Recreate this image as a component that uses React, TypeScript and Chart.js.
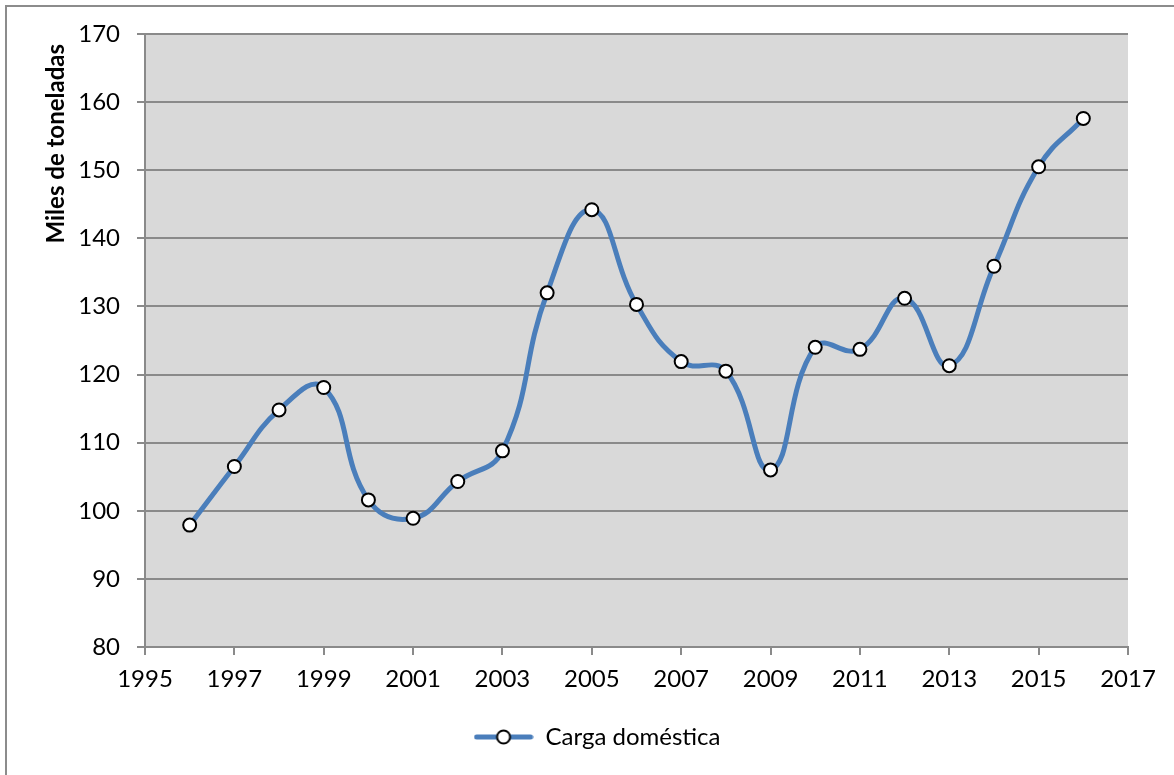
import React, { useEffect, useRef } from "react";
import { Chart, registerables } from "chart.js";

Chart.register(...registerables);

const years: number[] = [1996, 1997, 1998, 1999, 2000, 2001, 2002, 2003, 2004, 2005, 2006, 2007, 2008, 2009, 2010, 2011, 2012, 2013, 2014, 2015, 2016];
const cargaDomestica: number[] = [97.9, 106.5, 114.8, 118.1, 101.6, 98.9, 104.3, 108.8, 132.0, 144.2, 130.3, 121.9, 120.5, 106.0, 124.0, 123.7, 131.2, 121.3, 135.9, 150.5, 157.6];
const seriesLabel = "Carga doméstica";
const yTitle = "Miles de toneladas";
const xMin = 1995;
const xMax = 2017;
const xStep = 2;
const yMin = 80;
const yMax = 170;
const yStep = 10;

const LINE = "#4a7ebb";
const GRID = "#8a8a8a";
const PLOT_BG = "#d9d9d9";
const FONT = "Lato, 'Open Sans', sans-serif";

function makeLegendMarker(): HTMLCanvasElement {
  const c = document.createElement("canvas");
  c.width = 60;
  c.height = 18;
  const ctx = c.getContext("2d")!;
  ctx.strokeStyle = LINE;
  ctx.lineWidth = 5;
  ctx.lineCap = "round";
  ctx.beginPath();
  ctx.moveTo(3, 9);
  ctx.lineTo(57, 9);
  ctx.stroke();
  ctx.beginPath();
  ctx.arc(30, 9, 6.5, 0, Math.PI * 2);
  ctx.fillStyle = "#ffffff";
  ctx.fill();
  ctx.lineWidth = 2;
  ctx.strokeStyle = "#000000";
  ctx.stroke();
  return c;
}

const plotBgPlugin = {
  id: "plotBg",
  beforeDraw(chart: any) {
    const { ctx, chartArea } = chart;
    ctx.save();
    ctx.fillStyle = PLOT_BG;
    ctx.fillRect(chartArea.left, chartArea.top, chartArea.right - chartArea.left, chartArea.bottom - chartArea.top);
    ctx.restore();
  },
};

const yTitlePlugin = {
  id: "yTitleTop",
  afterDraw(chart: any) {
    const { ctx, chartArea } = chart;
    ctx.save();
    ctx.translate(56, chartArea.top + 10);
    ctx.rotate(-Math.PI / 2);
    ctx.font = `bold 24px ${FONT}`;
    ctx.fillStyle = "#000000";
    ctx.textAlign = "right";
    ctx.textBaseline = "middle";
    ctx.fillText(yTitle, 0, 0);
    ctx.restore();
  },
};

export default function App() {
  const ref = useRef<HTMLCanvasElement | null>(null);

  useEffect(() => {
    if (!ref.current) return;
    const marker = makeLegendMarker();
    const chart = new Chart(ref.current, {
      type: "line",
      data: {
        datasets: [
          {
            label: seriesLabel,
            data: years.map((y, i) => ({ x: y, y: cargaDomestica[i] })),
            borderColor: LINE,
            backgroundColor: "#ffffff",
            borderWidth: 5,
            tension: 0.45,
            pointRadius: 6.5,
            pointBorderWidth: 2,
            pointBorderColor: "#000000",
            pointBackgroundColor: "#ffffff",
            pointStyle: "circle",
            fill: false,
          },
        ],
      },
      options: {
        animation: false,
        responsive: false,
        maintainAspectRatio: false,
        layout: { padding: { left: 66, top: 34, right: 46, bottom: 16 } },
        plugins: {
          tooltip: { enabled: false },
          legend: {
            display: true,
            position: "bottom",
            labels: {
              usePointStyle: true,
              pointStyleWidth: 60,
              color: "#000000",
              font: { family: FONT, size: 24 },
              padding: 10,
              generateLabels: () => [
                {
                  text: seriesLabel,
                  pointStyle: marker as any,
                  fillStyle: "#ffffff",
                  strokeStyle: LINE,
                  lineWidth: 0,
                  hidden: false,
                  datasetIndex: 0,
                  fontColor: "#000000",
                },
              ],
            },
          },
        },
        scales: {
          x: {
            type: "linear",
            min: xMin,
            max: xMax,
            afterFit: (s: any) => {
              s.height = 68;
            },
            ticks: {
              stepSize: xStep,
              color: "#000000",
              font: { family: FONT, size: 24 },
              padding: 10,
              maxRotation: 0,
              callback: (v: any) => String(v),
            },
            grid: {
              display: true,
              drawOnChartArea: false,
              drawTicks: true,
              tickLength: 8,
              color: GRID,
              lineWidth: 2,
            },
            border: { display: true, color: GRID, width: 2 },
          },
          y: {
            type: "linear",
            min: yMin,
            max: yMax,
            afterFit: (s: any) => {
              s.width = 79;
            },
            ticks: {
              stepSize: yStep,
              color: "#000000",
              font: { family: FONT, size: 24 },
              padding: 17,
            },
            grid: {
              display: true,
              drawOnChartArea: true,
              drawTicks: true,
              tickLength: 8,
              color: GRID,
              lineWidth: 2,
            },
            border: { display: true, color: GRID, width: 2 },
            title: { display: false },
          },
        },
      },
      plugins: [plotBgPlugin, yTitlePlugin],
    });
    return () => chart.destroy();
  }, []);

  return (
    <div style={{ position: "fixed", left: 0, top: 0, width: 1174, height: 775, background: "#ffffff", overflow: "hidden" }}>
      <div
        style={{
          position: "absolute",
          left: 5,
          top: 5,
          width: 1200,
          height: 800,
          borderLeft: "2px solid #8c8c8c",
          borderTop: "2px solid #8c8c8c",
        }}
      />
      <canvas ref={ref} width={1174} height={775} style={{ position: "absolute", left: 0, top: 0, width: 1174, height: 775 }} />
    </div>
  );
}
